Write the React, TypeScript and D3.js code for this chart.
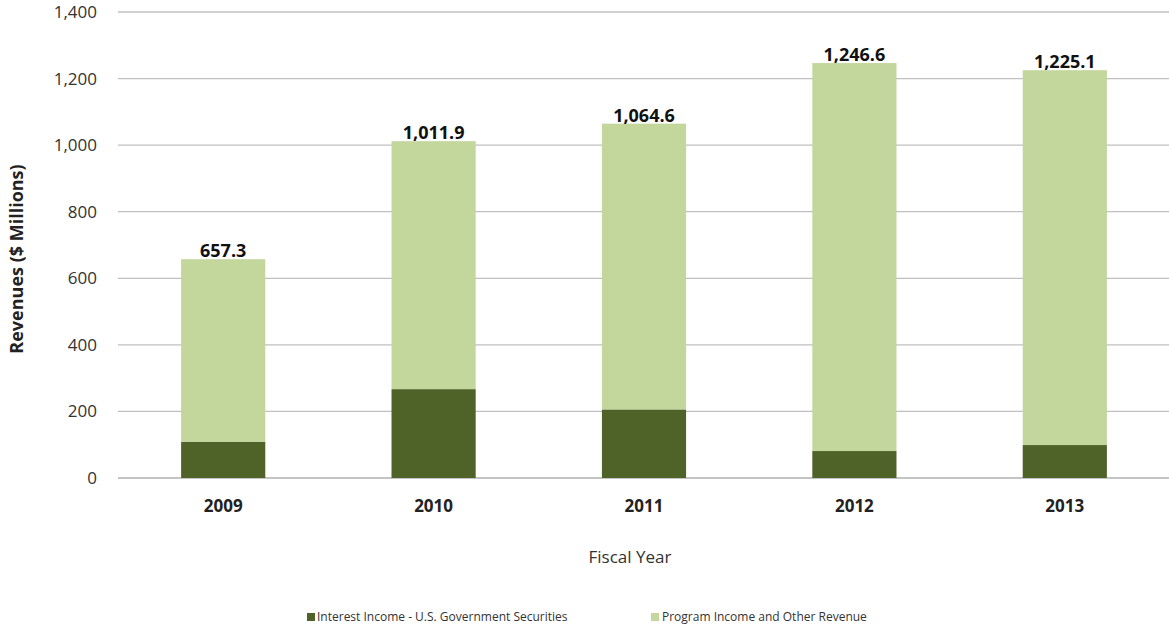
import React from "react";
import * as d3 from "d3";

const years = ["2009", "2010", "2011", "2012", "2013"];
const totals = [657.3, 1011.9, 1064.6, 1246.6, 1225.1];
const interestIncome = [109, 267, 206, 81, 99];
const totalLabels = ["657.3", "1,011.9", "1,064.6", "1,246.6", "1,225.1"];
const yTicks = [0, 200, 400, 600, 800, 1000, 1200, 1400];
const seriesNames = ["Interest Income - U.S. Government Securities", "Program Income and Other Revenue"];

const W = 1169, H = 628;
const left = 118, right = 1170, top = 12, bottom = 478;
const DARK = "#4f6228", LIGHT = "#c3d69b";
const FONT = "'Open Sans', 'Noto Sans', sans-serif";

export default function App() {
  const x = d3.scaleBand<string>().domain(years).range([left, right]).paddingInner(0.6).paddingOuter(0.3);
  const y = d3.scaleLinear().domain([0, 1400]).range([bottom, top]);
  const program = totals.map((t, i) => t - interestIncome[i]);
  const rows = years.map((yr, i) => ({ yr, interest: interestIncome[i], program: program[i] }));
  const stack = d3.stack<any>().keys(["interest", "program"])(rows);
  const colors = [DARK, LIGHT];
  return (
    <svg width={W} height={H} style={{ position: "absolute", left: 0, top: 0, background: "#fff" }} fontFamily={FONT}>
      {yTicks.map((t) => (
        <g key={t}>
          <line x1={left} x2={right} y1={y(t)} y2={y(t)} stroke={t === 0 ? "#b0b0b0" : "#c0c0c0"} strokeWidth={1.3} />
          <text x={97} y={y(t)} dy="0.35em" textAnchor="end" fontSize={17} fill="#333">{d3.format(",")(t)}</text>
        </g>
      ))}
      {stack.map((s, si) =>
        s.map((d, i) => (
          <rect key={si + "-" + i} x={x(years[i])} width={x.bandwidth()} y={y(d[1])} height={y(d[0]) - y(d[1])} fill={colors[si]} />
        ))
      )}
      {years.map((yr, i) => (
        <text key={yr} x={(x(yr) as number) + x.bandwidth() / 2} y={y(totals[i]) - 2} textAnchor="middle" fontSize={18} fontWeight="bold" fill="#111">{totalLabels[i]}</text>
      ))}
      {years.map((yr) => (
        <text key={"x" + yr} x={(x(yr) as number) + x.bandwidth() / 2} y={512} textAnchor="middle" fontSize={17} fontWeight="bold" fill="#222">{yr}</text>
      ))}
      <text x={630} y={563} textAnchor="middle" fontSize={17} fill="#333">Fiscal Year</text>
      <text transform={`translate(23, 259) rotate(-90)`} textAnchor="middle" fontSize={18} fontWeight="bold" fill="#222">Revenues ($ Millions)</text>
      <g fontSize={12} fill="#333">
        <rect x={307} y={613} width={8} height={8} fill={DARK} />
        <text x={317} y={621}>{seriesNames[0]}</text>
        <rect x={651} y={613} width={8} height={8} fill={LIGHT} />
        <text x={662} y={621}>{seriesNames[1]}</text>
      </g>
    </svg>
  );
}
